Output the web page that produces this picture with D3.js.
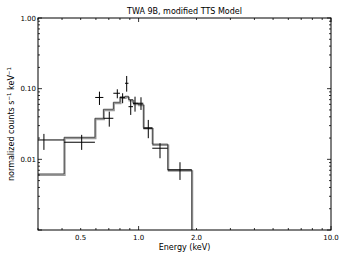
<!DOCTYPE html>
<html><head><meta charset="utf-8">
<script src="https://cdn.jsdelivr.net/npm/d3@7"></script>
<style>
body{margin:0;background:#fff;}
text{font-family:"DejaVu Sans",sans-serif;fill:#000;}
</style></head><body>
<svg id="c" width="346" height="260"></svg>
<script>
// Data (keV, normalized counts s^-1 keV^-1)
const dataE    = [0.322,0.506,0.626,0.704,0.775,0.826,0.867,0.910,0.958,1.029,1.123,1.292,1.641];
const dataElo  = [0.234,0.410,0.595,0.656,0.739,0.800,0.850,0.886,0.935,0.993,1.058,1.178,1.417];
const dataEhi  = [0.410,0.593,0.656,0.739,0.800,0.850,0.886,0.935,0.993,1.058,1.178,1.417,1.888];
const dataY    = [0.0188,0.01745,0.0751,0.0381,0.0861,0.0746,0.1192,0.0556,0.0622,0.0622,0.0275,0.01436,0.00708];
const dataYlo  = [0.0136,0.0136,0.0588,0.0290,0.0731,0.0622,0.0907,0.0425,0.0473,0.0500,0.0199,0.01036,0.00511];
const dataYhi  = [0.0229,0.0222,0.0907,0.0473,0.0980,0.0861,0.1512,0.0692,0.0770,0.0756,0.0361,0.0169,0.0091];
// Model step
const modelEdges = [0.234,0.410,0.593,0.656,0.739,0.800,0.850,0.886,0.935,0.993,1.058,1.178,1.417,1.888];
const modelVals  = [0.0062,0.0205,0.0381,0.0511,0.0642,0.0763,0.0780,0.0700,0.0620,0.0600,0.0281,0.0164,0.0071];
const xTickVals = [0.5,1.0,2.0,10.0];
const xTickLabels = ["0.5","1.0","2.0","10.0"];
const yTickVals = [0.01,0.1,1];
const yTickLabels = ["0.01","0.10","1.00"];

const L=38,R=331,T=18,B=230;
const svg=d3.select("#c");
const x=d3.scaleLog().domain([0.3,10]).range([L,R]);
const y=d3.scaleLog().domain([0.001,1]).range([B,T]);

svg.append("defs").append("clipPath").attr("id","clip")
  .append("rect").attr("x",L).attr("y",T).attr("width",R-L).attr("height",B-T);

const g=svg.append("g").attr("clip-path","url(#clip)");

// model path
let p=d3.path();
modelVals.forEach((v,i)=>{
  const x0=x(modelEdges[i]), x1=x(modelEdges[i+1]);
  if(i===0) p.moveTo(x0,y(v)); else p.lineTo(x0,y(v));
  p.lineTo(x1,y(v));
});
p.lineTo(x(modelEdges[modelEdges.length-1]), B+5);
g.append("path").attr("d",p.toString()).attr("fill","none").attr("stroke","#999").attr("stroke-width",1.5)
  .attr("transform","translate(0.8,1.2)");
g.append("path").attr("d",p.toString()).attr("fill","none").attr("stroke","#333").attr("stroke-width",0.9);

// data crosses
dataE.forEach((e,i)=>{
  g.append("line").attr("x1",x(dataElo[i])).attr("x2",x(dataEhi[i]))
    .attr("y1",y(dataY[i])).attr("y2",y(dataY[i])).attr("stroke","#000").attr("stroke-width",1);
  g.append("line").attr("x1",x(e)).attr("x2",x(e))
    .attr("y1",y(dataYlo[i])).attr("y2",y(dataYhi[i])).attr("stroke","#000").attr("stroke-width",1);
});

// frame
svg.append("rect").attr("x",L).attr("y",T).attr("width",R-L).attr("height",B-T)
  .attr("fill","none").attr("stroke","#000").attr("stroke-width",1);

// ticks
const xMinor=[],yMinor=[];
[0.1,1].forEach(d=>{for(let k=2;k<=9;k++){const v=d*k; if(v>=0.3&&v<=10) xMinor.push(v);}});
[0.001,0.01,0.1].forEach(d=>{for(let k=2;k<=9;k++) yMinor.push(d*k);});
const xMajor=[1,10], yMajor=[0.001,0.01,0.1,1];
const tk=svg.append("g").attr("stroke","#000").attr("stroke-width",0.8);
function xt(v,len){tk.append("line").attr("x1",x(v)).attr("x2",x(v)).attr("y1",B).attr("y2",B-len);
  tk.append("line").attr("x1",x(v)).attr("x2",x(v)).attr("y1",T).attr("y2",T+len);}
function yt(v,len){tk.append("line").attr("y1",y(v)).attr("y2",y(v)).attr("x1",L).attr("x2",L+len);
  tk.append("line").attr("y1",y(v)).attr("y2",y(v)).attr("x1",R).attr("x2",R-len);}
xMinor.forEach(v=>xt(v,2)); xMajor.forEach(v=>xt(v,4));
yMinor.forEach(v=>yt(v,2)); yMajor.forEach(v=>yt(v,4));

// tick labels
xTickVals.forEach((v,i)=>svg.append("text").attr("x",x(v)).attr("y",B+10)
  .attr("text-anchor","middle").attr("font-size",7).text(xTickLabels[i]));
yTickVals.forEach((v,i)=>svg.append("text").attr("x",L-2).attr("y",y(v)+2.5)
  .attr("text-anchor","end").attr("font-size",7).text(yTickLabels[i]));

svg.append("text").attr("x",(L+R)/2).attr("y",T-4).attr("text-anchor","middle")
  .attr("font-size",8).text("TWA 9B, modified TTS Model");
svg.append("text").attr("x",(L+R)/2).attr("y",250).attr("text-anchor","middle")
  .attr("font-size",8).text("Energy (keV)");
const yl=svg.append("text").attr("transform",`translate(14,${(T+B)/2}) rotate(-90)`)
  .attr("text-anchor","middle").attr("font-size",8);
yl.append("tspan").text("normalized counts s");
yl.append("tspan").attr("dy",-3).attr("font-size",5.5).text("−1");
yl.append("tspan").attr("dy",3).text("  keV");
yl.append("tspan").attr("dy",-3).attr("font-size",5.5).text("−1");
</script></body></html>
